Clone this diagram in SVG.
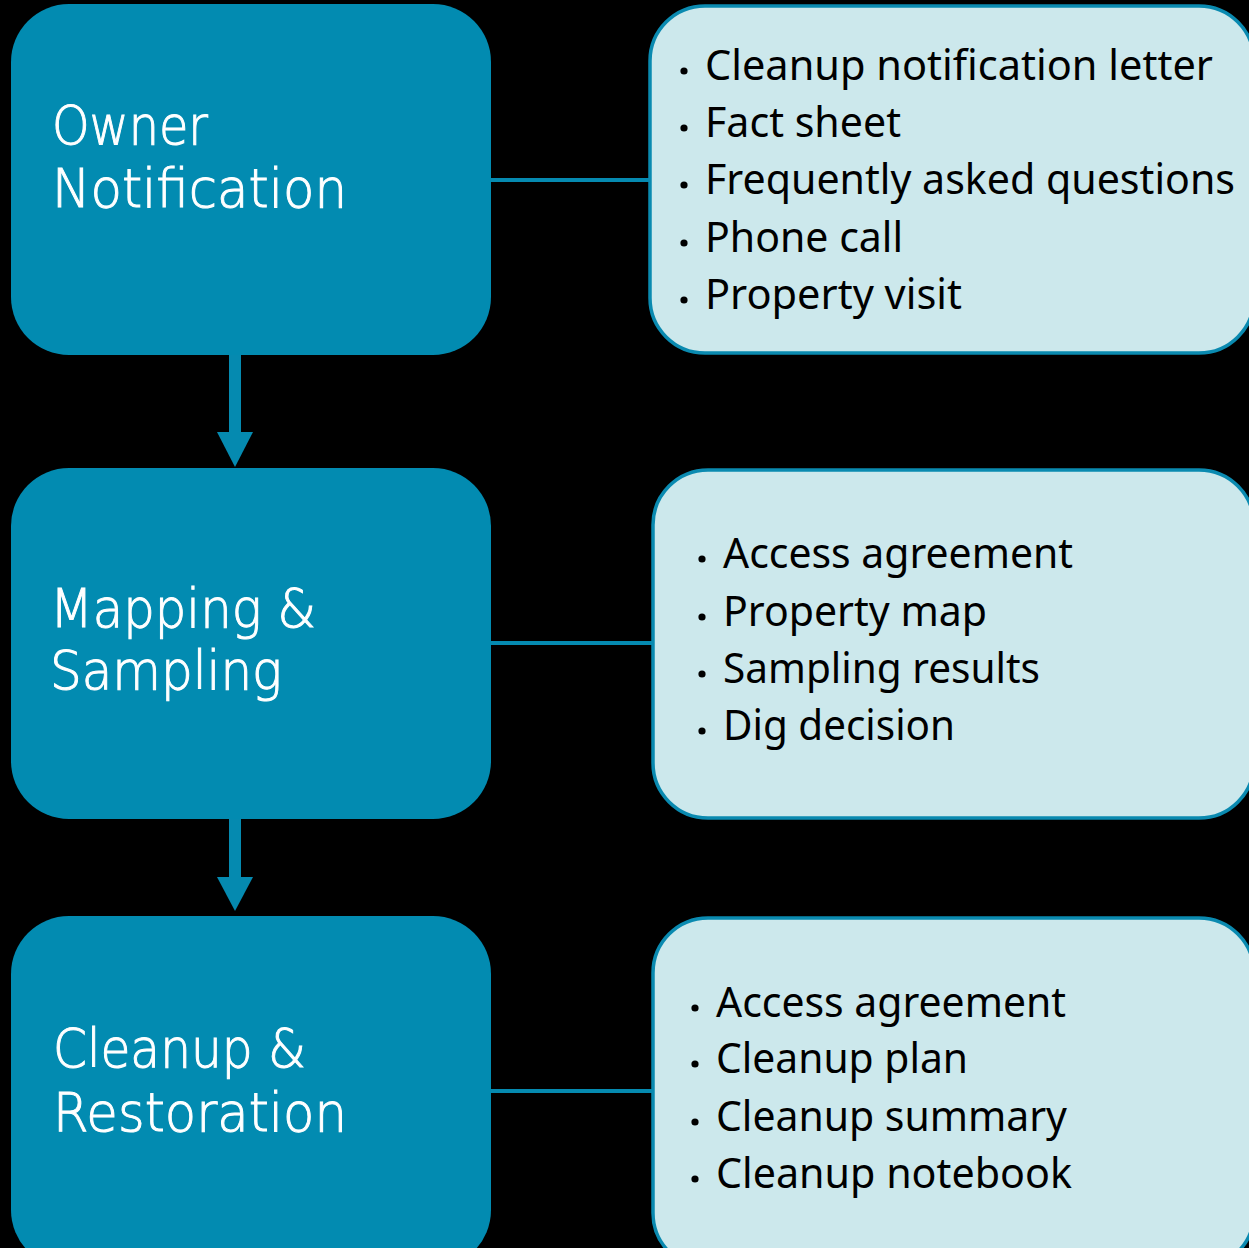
<svg xmlns="http://www.w3.org/2000/svg" width="1249" height="1248" viewBox="0 0 1249 1248">
<defs>
<style>
.step{fill:#028BB1;}
.info{fill:#CCE8EC;stroke:#0A8AB0;stroke-width:3.5;}
.title{font-family:"DejaVu Sans",sans-serif;font-weight:200;font-size:53px;fill:#FFFFFF;stroke:#FFFFFF;stroke-width:1;}
.item{font-family:"Noto Sans","Open Sans",sans-serif;font-size:42px;fill:#000000;}
.bul{fill:#000000;}
.conn{stroke:#058AB0;stroke-width:4;fill:none;}
.shaft{stroke:#058AB0;stroke-width:12;fill:none;}
.head{fill:#058AB0;}
</style>
</defs>
<rect width="1249" height="1248" fill="#000000"/>
<g id="connectors">
<line class="conn" x1="490" y1="180" x2="650" y2="180"/>
<line class="conn" x1="490" y1="643" x2="653" y2="643"/>
<line class="conn" x1="490" y1="1091" x2="653" y2="1091"/>
<line class="shaft" x1="235" y1="354" x2="235" y2="434"/>
<polygon class="head" points="217,432 253,432 235,467"/>
<line class="shaft" x1="235" y1="818" x2="235" y2="879"/>
<polygon class="head" points="217,877 253,877 235,911"/>
</g>
<g id="owner-notification">
<rect class="step" x="11" y="4" width="480" height="351" rx="58" ry="58"/>
<text class="title" x="52" y="144" textLength="156" lengthAdjust="spacingAndGlyphs">Owner</text>
<text class="title" x="52" y="207" textLength="295" lengthAdjust="spacingAndGlyphs">Notification</text>
</g>
<g id="mapping-sampling">
<rect class="step" x="11" y="468" width="480" height="351" rx="58" ry="58"/>
<text class="title" x="50" y="627" textLength="266" lengthAdjust="spacingAndGlyphs">Mapping &amp;</text>
<text class="title" x="50" y="689" textLength="232" lengthAdjust="spacingAndGlyphs">Sampling</text>
</g>
<g id="cleanup-restoration">
<rect class="step" x="11" y="916" width="480" height="352" rx="58" ry="58"/>
<text class="title" x="53" y="1067" textLength="253" lengthAdjust="spacingAndGlyphs">Cleanup &amp;</text>
<text class="title" x="53" y="1131" textLength="294" lengthAdjust="spacingAndGlyphs">Restoration</text>
</g>
<g id="notification-items">
<rect class="info" x="650" y="6" width="604" height="347" rx="55" ry="55"/>
<circle class="bul" cx="684" cy="71" r="3.6"/>
<text class="item" x="705" y="80" textLength="508" lengthAdjust="spacingAndGlyphs">Cleanup notification letter</text>
<circle class="bul" cx="684" cy="128" r="3.6"/>
<text class="item" x="705" y="137" textLength="196" lengthAdjust="spacingAndGlyphs">Fact sheet</text>
<circle class="bul" cx="684" cy="185" r="3.6"/>
<text class="item" x="705" y="194" textLength="530" lengthAdjust="spacingAndGlyphs">Frequently asked questions</text>
<circle class="bul" cx="684" cy="243" r="3.6"/>
<text class="item" x="705" y="252" textLength="198" lengthAdjust="spacingAndGlyphs">Phone call</text>
<circle class="bul" cx="684" cy="300" r="3.6"/>
<text class="item" x="705" y="309" textLength="257" lengthAdjust="spacingAndGlyphs">Property visit</text>
</g>
<g id="sampling-items">
<rect class="info" x="653" y="470" width="601" height="348" rx="55" ry="55"/>
<circle class="bul" cx="702" cy="559" r="3.6"/>
<text class="item" x="723" y="568" textLength="350" lengthAdjust="spacingAndGlyphs">Access agreement</text>
<circle class="bul" cx="702" cy="617" r="3.6"/>
<text class="item" x="723" y="626" textLength="264" lengthAdjust="spacingAndGlyphs">Property map</text>
<circle class="bul" cx="702" cy="674" r="3.6"/>
<text class="item" x="723" y="683" textLength="317" lengthAdjust="spacingAndGlyphs">Sampling results</text>
<circle class="bul" cx="702" cy="731" r="3.6"/>
<text class="item" x="723" y="740" textLength="232" lengthAdjust="spacingAndGlyphs">Dig decision</text>
</g>
<g id="cleanup-items">
<rect class="info" x="653" y="918" width="601" height="350" rx="55" ry="55"/>
<circle class="bul" cx="695" cy="1008" r="3.6"/>
<text class="item" x="716" y="1017" textLength="350" lengthAdjust="spacingAndGlyphs">Access agreement</text>
<circle class="bul" cx="695" cy="1064" r="3.6"/>
<text class="item" x="716" y="1073" textLength="252" lengthAdjust="spacingAndGlyphs">Cleanup plan</text>
<circle class="bul" cx="695" cy="1122" r="3.6"/>
<text class="item" x="716" y="1131" textLength="351" lengthAdjust="spacingAndGlyphs">Cleanup summary</text>
<circle class="bul" cx="695" cy="1179" r="3.6"/>
<text class="item" x="716" y="1188" textLength="356" lengthAdjust="spacingAndGlyphs">Cleanup notebook</text>
</g>
</svg>
